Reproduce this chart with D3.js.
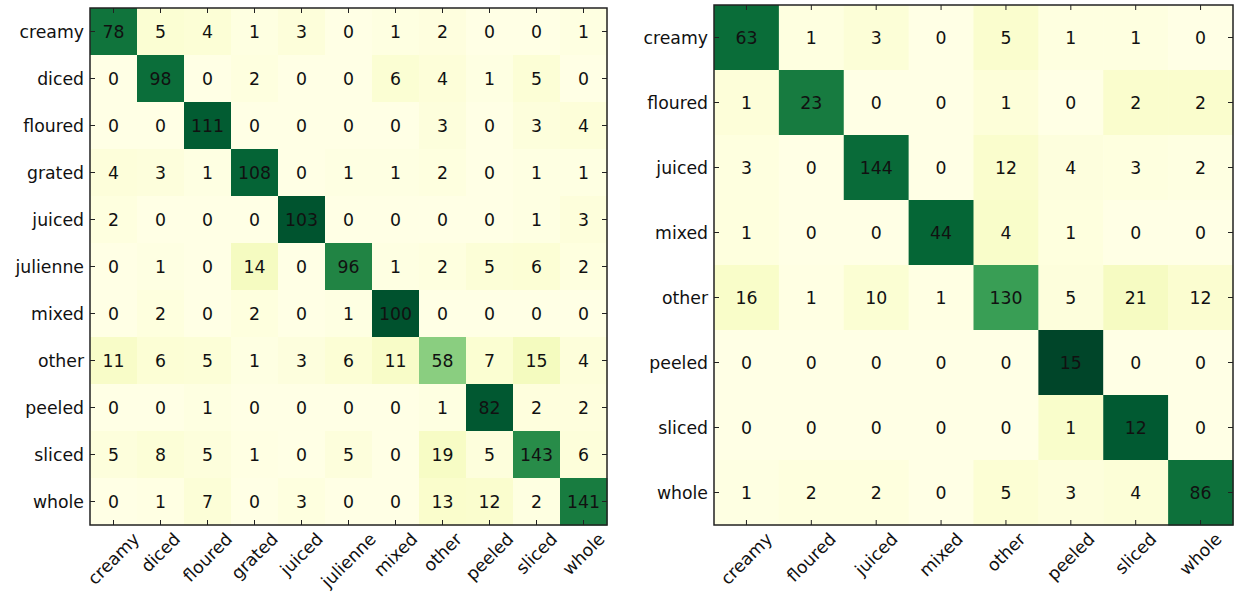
<!DOCTYPE html>
<html>
<head>
<meta charset="utf-8">
<script src="https://cdn.jsdelivr.net/npm/d3@7"></script>
<style>
  html, body { margin: 0; padding: 0; background: #fff; }
  svg { display: block; font-family: "DejaVu Sans", Verdana, sans-serif; }
</style>
</head>
<body>
<svg id="chart" width="1238" height="598"></svg>
<script>
// Confusion matrix, 11 classes (rows = true, columns = predicted)
const leftLabels = ["creamy", "diced", "floured", "grated", "juiced", "julienne",
                    "mixed", "other", "peeled", "sliced", "whole"];
const leftCounts = [
  [78, 5, 4, 1, 3, 0, 1, 2, 0, 0, 1],
  [0, 98, 0, 2, 0, 0, 6, 4, 1, 5, 0],
  [0, 0, 111, 0, 0, 0, 0, 3, 0, 3, 4],
  [4, 3, 1, 108, 0, 1, 1, 2, 0, 1, 1],
  [2, 0, 0, 0, 103, 0, 0, 0, 0, 1, 3],
  [0, 1, 0, 14, 0, 96, 1, 2, 5, 6, 2],
  [0, 2, 0, 2, 0, 1, 100, 0, 0, 0, 0],
  [11, 6, 5, 1, 3, 6, 11, 58, 7, 15, 4],
  [0, 0, 1, 0, 0, 0, 0, 1, 82, 2, 2],
  [5, 8, 5, 1, 0, 5, 0, 19, 5, 143, 6],
  [0, 1, 7, 0, 3, 0, 0, 13, 12, 2, 141]
];

// Confusion matrix, 8 classes
const rightLabels = ["creamy", "floured", "juiced", "mixed", "other", "peeled", "sliced", "whole"];
const rightCounts = [
  [63, 1, 3, 0, 5, 1, 1, 0],
  [1, 23, 0, 0, 1, 0, 2, 2],
  [3, 0, 144, 0, 12, 4, 3, 2],
  [1, 0, 0, 44, 4, 1, 0, 0],
  [16, 1, 10, 1, 130, 5, 21, 12],
  [0, 0, 0, 0, 0, 15, 0, 0],
  [0, 0, 0, 0, 0, 1, 12, 0],
  [1, 2, 2, 0, 5, 3, 4, 86]
];

const svg = d3.select("#chart");
const color = d3.scaleSequential(d3.interpolateYlGn).domain([0, 1]);
const fontSize = 17.3;

function drawMatrix(labels, counts, box) {
  const g = svg.append("g");
  const x = d3.scaleBand().domain(labels).range([box.x0, box.x1]);
  const y = d3.scaleBand().domain(labels).range([box.y0, box.y1]);

  // cells, coloured by row-normalised share
  labels.forEach((rowLab, i) => {
    const total = d3.sum(counts[i]);
    labels.forEach((colLab, j) => {
      const v = counts[i][j];
      g.append("rect")
        .attr("x", x(colLab)).attr("y", y(rowLab))
        .attr("width", x.bandwidth() + 0.5).attr("height", y.bandwidth() + 0.5)
        .attr("fill", color(total ? v / total : 0));
      g.append("text")
        .attr("x", x(colLab) + x.bandwidth() / 2)
        .attr("y", y(rowLab) + y.bandwidth() / 2)
        .attr("text-anchor", "middle")
        .attr("dominant-baseline", "central")
        .attr("font-size", fontSize)
        .attr("fill", "#111")
        .text(v);
    });
  });

  const tickLen = 5;
  const tickStyle = s => s.attr("stroke", "#222").attr("stroke-width", 1);

  // inward ticks on all four sides
  labels.forEach(lab => {
    const cx = x(lab) + x.bandwidth() / 2;
    const cy = y(lab) + y.bandwidth() / 2;
    g.append("line").attr("x1", cx).attr("x2", cx).attr("y1", box.y0).attr("y2", box.y0 + tickLen).call(tickStyle);
    g.append("line").attr("x1", cx).attr("x2", cx).attr("y1", box.y1).attr("y2", box.y1 - tickLen).call(tickStyle);
    g.append("line").attr("y1", cy).attr("y2", cy).attr("x1", box.x0).attr("x2", box.x0 + tickLen).call(tickStyle);
    g.append("line").attr("y1", cy).attr("y2", cy).attr("x1", box.x1).attr("x2", box.x1 - tickLen).call(tickStyle);
  });

  // row labels
  g.selectAll(".ylab").data(labels).enter().append("text")
    .attr("x", box.x0 - 6)
    .attr("y", d => y(d) + y.bandwidth() / 2)
    .attr("text-anchor", "end")
    .attr("dominant-baseline", "central")
    .attr("font-size", fontSize)
    .attr("fill", "#111")
    .text(d => d);

  // column labels, rotated 45 degrees and centred under each tick
  g.selectAll(".xlab").data(labels).enter().append("text")
    .attr("text-anchor", "middle")
    .attr("dominant-baseline", "central")
    .attr("font-size", fontSize)
    .attr("fill", "#111")
    .text(d => d)
    .each(function(d) {
      const w = this.getComputedTextLength();
      const h = fontSize * 0.8;
      const half = (w + h) / (2 * Math.SQRT2);
      d3.select(this).attr("transform",
        `translate(${x(d) + x.bandwidth() / 2},${box.y1 + 6 + half}) rotate(-45)`);
    });

  // frame
  g.append("rect")
    .attr("x", box.x0).attr("y", box.y0)
    .attr("width", box.x1 - box.x0).attr("height", box.y1 - box.y0)
    .attr("fill", "none").attr("stroke", "#222").attr("stroke-width", 1.5);
}

drawMatrix(leftLabels, leftCounts, { x0: 90, x1: 607, y0: 8, y1: 525 });
drawMatrix(rightLabels, rightCounts, { x0: 714, x1: 1233, y0: 5, y1: 525 });
</script>
</body>
</html>
